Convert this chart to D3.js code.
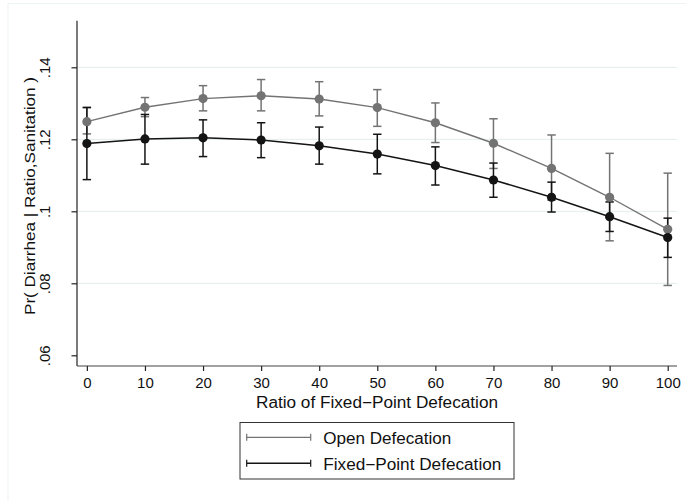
<!DOCTYPE html>
<html><head><meta charset="utf-8">
<script src="https://cdn.jsdelivr.net/npm/d3@7"></script>
<style>
html,body{margin:0;padding:0;background:#fff;}
svg text{font-family:"Liberation Sans",Arial,Helvetica,sans-serif;fill:#111;}
</style></head>
<body><svg id="c" width="686" height="501"></svg>
<script>
const ratio = [0,10,20,30,40,50,60,70,80,90,100];
const openMean = [.1249,.1289,.1313,.1321,.1312,.1288,.1246,.1189,.1119,.1039,.0950];
const openLo   = [.1215,.1263,.1279,.1279,.1265,.1236,.1191,.1119,.1031,.0918,.0794];
const openHi   = [.1289,.1316,.1349,.1366,.1360,.1338,.1301,.1257,.1212,.1161,.1106];
const fixMean  = [.1188,.1201,.1204,.1198,.1182,.1159,.1127,.1087,.1039,.0985,.0927];
const fixLo    = [.1088,.1131,.1152,.1149,.1131,.1104,.1073,.1039,.0998,.0944,.0872];
const fixHi    = [.1288,.1269,.1254,.1246,.1234,.1214,.1179,.1134,.1081,.1026,.0981];
const yTicks = [.06,.08,.1,.12,.14];
const yTickLabels = [".06",".08",".1",".12",".14"];
const xTicks = [0,10,20,30,40,50,60,70,80,90,100];
const seriesNames = ["Open Defecation","Fixed\u2212Point Defecation"];
const seriesColors = ["#737373","#141414"];

const svg = d3.select("#c");
svg.append("line").attr("x1",8).attr("x2",8).attr("y1",3).attr("y2",501).attr("stroke","#eef3f3").attr("stroke-width",1);
svg.append("line").attr("x1",8).attr("x2",686).attr("y1",3.5).attr("y2",3.5).attr("stroke","#eef3f3").attr("stroke-width",1);

const L = 77, R = 677, T = 20.7, B = 366;
const x = d3.scaleLinear().domain([-1.7, 101.6]).range([L, R]);
const y = d3.scaleLinear().domain([0.06 - 10.7/3600, 0.14 + 46.6/3600]).range([B, T]);

svg.append("g").selectAll("line").data(yTicks.filter(d=>d>0.06)).join("line")
  .attr("x1",L).attr("x2",R).attr("y1",d=>y(d)).attr("y2",d=>y(d))
  .attr("stroke","#e9f0f0").attr("stroke-width",1.3);

const yAxis = d3.axisLeft(y).tickValues(yTicks).tickFormat((d,i)=>yTickLabels[i]).tickSize(5.5).tickSizeOuter(0);
const gy = svg.append("g").attr("transform",`translate(${L},0)`).call(yAxis);
gy.select(".domain").attr("stroke","#222").attr("stroke-width",1.2).attr("d",`M0,${T}V${B}`);
gy.selectAll(".tick line").attr("stroke","#222").attr("stroke-width",1.2);
gy.selectAll(".tick text").attr("font-size",15).attr("fill","#111")
  .attr("text-anchor","middle").attr("x",0).attr("dy",0).attr("y",0)
  .attr("transform","translate(-27.5,0) rotate(-90)");

const xAxis = d3.axisBottom(x).tickValues(xTicks).tickSize(5).tickSizeOuter(0);
const gx = svg.append("g").attr("transform",`translate(0,${B})`).call(xAxis);
gx.select(".domain").attr("stroke","#444").attr("stroke-width",1.2).attr("d",`M${L},0H${R}`);
gx.selectAll(".tick line").attr("stroke","#222").attr("stroke-width",1.2);
gx.selectAll(".tick text").attr("font-size",15).attr("fill","#111").attr("y",22.3).attr("dy",0);

svg.append("text").attr("x",(L+R)/2).attr("y",407.7).attr("text-anchor","middle")
  .attr("font-size",16).attr("textLength",242).attr("lengthAdjust","spacingAndGlyphs")
  .text("Ratio of Fixed\u2212Point Defecation");
svg.append("text").attr("transform",`translate(35,${(77+315)/2}) rotate(-90)`).attr("text-anchor","middle")
  .attr("font-size",15).attr("textLength",238).attr("lengthAdjust","spacingAndGlyphs")
  .text("Pr( Diarrhea | Ratio,Sanitation )");

const series = [
  {mean:openMean, lo:openLo, hi:openHi, color:seriesColors[0], lw:1.4},
  {mean:fixMean, lo:fixLo, hi:fixHi, color:seriesColors[1], lw:1.5}
];
const capW = 4.2;
series.forEach(s=>{
  const g = svg.append("g");
  ratio.forEach((r,i)=>{
    const cx = x(r);
    g.append("line").attr("x1",cx).attr("x2",cx).attr("y1",y(s.lo[i])).attr("y2",y(s.hi[i])).attr("stroke",s.color).attr("stroke-width",1.5);
    [s.lo[i],s.hi[i]].forEach(v=>{
      g.append("line").attr("x1",cx-capW).attr("x2",cx+capW).attr("y1",y(v)).attr("y2",y(v)).attr("stroke",s.color).attr("stroke-width",1.5);
    });
  });
});
series.forEach(s=>{
  const pts = ratio.map((r,i)=>[x(r), y(s.mean[i])]);
  svg.append("path").attr("d",d3.line()(pts)).attr("fill","none").attr("stroke",s.color).attr("stroke-width",s.lw);
  svg.append("g").selectAll("circle").data(pts).join("circle")
    .attr("cx",d=>d[0]).attr("cy",d=>d[1]).attr("r",4.6).attr("fill",s.color);
});

const lg = svg.append("g");
lg.append("rect").attr("x",240).attr("y",422.5).attr("width",274).attr("height",56.5)
  .attr("fill","#fff").attr("stroke","#333").attr("stroke-width",1);
const legY = [437.3, 463.3];
const legW = [128, 178];
seriesNames.forEach((name,i)=>{
  const c = seriesColors[i];
  const yy = legY[i];
  lg.append("line").attr("x1",246.7).attr("x2",310.7).attr("y1",yy).attr("y2",yy).attr("stroke",c).attr("stroke-width",i?1.6:1.3);
  [246.7,310.7].forEach(xx=>{
    lg.append("line").attr("x1",xx).attr("x2",xx).attr("y1",yy-3.5).attr("y2",yy+3.5).attr("stroke",c).attr("stroke-width",1.2);
  });
  lg.append("text").attr("x",323.3).attr("y",yy+6.5).attr("font-size",16)
    .attr("textLength",legW[i]).attr("lengthAdjust","spacingAndGlyphs").text(name);
});
</script></body></html>
